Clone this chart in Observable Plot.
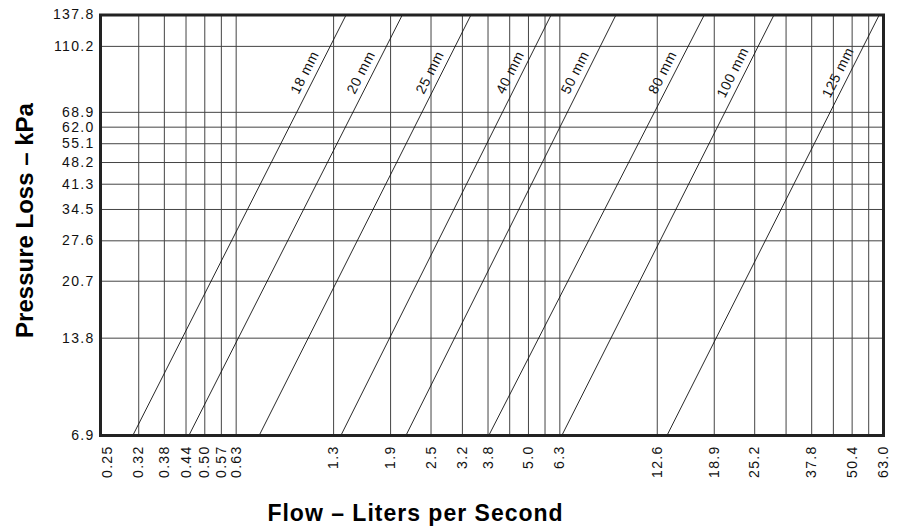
<!DOCTYPE html>
<html><head><meta charset="utf-8">
<script src="https://cdn.jsdelivr.net/npm/d3@7"></script>
<script src="https://cdn.jsdelivr.net/npm/@observablehq/plot@0.6"></script>
<style>body{margin:0;background:#fff;} #chart svg{display:block;}</style>
</head><body><div id="chart"></div>
<script>
// ---- data ----
const pipeSizes = ["18 mm", "20 mm", "25 mm", "40 mm", "50 mm", "80 mm", "100 mm", "125 mm"];
// flow (L/s) where each line crosses the bottom (6.9 kPa) and top (137.8 kPa) of the chart
const flowAtMinPressure = [0.302, 0.45, 0.742, 1.327, 2.108, 3.80, 6.39, 13.5];
const flowAtMaxPressure = [1.377, 2.054, 3.348, 5.92, 9.39, 17.6, 28.9, 61.1];
const pressureMin = 6.9, pressureMax = 137.8;
const flowMin = 0.24, flowMax = 63.0;
// vertical grid lines (L/s) and their labels ("" = unlabeled line)
const flowGridValues = [0.252, 0.315, 0.378, 0.441, 0.504, 0.567, 0.63, 1.26, 1.89, 2.52, 3.15, 3.78, 4.41, 5.04, 5.67, 6.3, 12.6, 18.9, 25.2, 31.5, 37.8, 44.1, 50.4, 56.7, 63.0];
const flowTickLabels = ["0.25", "0.32", "0.38", "0.44", "0.50", "0.57", "0.63", "1.3", "1.9", "2.5", "3.2", "3.8", "", "5.0", "", "6.3", "12.6", "18.9", "25.2", "", "37.8", "", "50.4", "", "63.0"];
const pressureTicks = [6.9, 13.8, 20.7, 27.6, 34.5, 41.3, 48.2, 55.1, 62.0, 68.9, 110.2, 137.8];
const pressureTickLabels = ["6.9", "13.8", "20.7", "27.6", "34.5", "41.3", "48.2", "55.1", "62.0", "68.9", "110.2", "137.8"];
const labelPressure = 91.5; // pressure at which line labels sit
const xTitle = "Flow – Liters per Second";
const yTitle = "Pressure Loss – kPa";

// ---- layout ----
const W = 903, H = 531;
const mL = 100, mR = 20, mT = 14.5, mB = 96;
const kx = (W - mL - mR) / Math.log10(flowMax / flowMin);
const ky = (H - mT - mB) / Math.log10(pressureMax / pressureMin);

const pipes = pipeSizes.map((name, i) => {
  const q1 = flowAtMinPressure[i], q2 = flowAtMaxPressure[i];
  const n = Math.log(pressureMax / pressureMin) / Math.log(q2 / q1);
  const qLab = q1 * Math.pow(labelPressure / pressureMin, 1 / n);
  const angle = -Math.atan(n * ky / kx) * 180 / Math.PI;
  return {name, q1, q2, qLab, angle};
});

const xLabelMap = new Map(flowGridValues.map((v, i) => [v, flowTickLabels[i]]));
const xLabeled = flowGridValues.filter((v, i) => flowTickLabels[i] !== "");
const yLabelMap = new Map(pressureTicks.map((v, i) => [v, pressureTickLabels[i]]));

const chart = Plot.plot({
  width: W, height: H,
  marginLeft: mL, marginRight: mR, marginTop: mT, marginBottom: mB,
  style: {fontFamily: "'Liberation Sans', Arial, Helvetica, sans-serif", fontSize: "14px", color: "#111", background: "#fff"},
  x: {type: "log", domain: [flowMin, flowMax]},
  y: {type: "log", domain: [pressureMin, pressureMax]},
  marks: [
    Plot.ruleX(flowGridValues.slice(1, -1), {stroke: "#444", strokeWidth: 1}),
    Plot.ruleY(pressureTicks, {stroke: "#444", strokeWidth: 1}),
    Plot.link(pipes, {x1: "q1", y1: () => pressureMin, x2: "q2", y2: () => pressureMax, stroke: "#111", strokeWidth: 0.9}),
    Plot.text(pipes, {x: "qLab", y: () => labelPressure, text: "name", rotate: "angle", dx: -12, fontSize: 14, fill: "#111"}),
    Plot.frame({stroke: "#222", strokeWidth: 3}),
    Plot.axisY(pressureTicks, {tickSize: 0, tickPadding: 6, text: d => yLabelMap.get(d), label: null, fontSize: 14}),
    Plot.axisX(xLabeled, {tickSize: 0, tickPadding: 10, tickRotate: -90, textAnchor: "end", lineAnchor: "middle", text: d => xLabelMap.get(d), label: null, fontSize: 14}),
    Plot.text([yTitle], {frameAnchor: "left", textAnchor: "middle", lineAnchor: "middle", rotate: -90, dx: -75.5, dy: -4.75, fontWeight: "bold", fontSize: 24, fill: "#000"}),
    Plot.text([xTitle], {frameAnchor: "bottom", textAnchor: "middle", lineAnchor: "middle", dx: -76.5, dy: 78.6, fontWeight: "bold", fontSize: 23, fill: "#000"})
  ]
});
document.getElementById("chart").append(chart);
const svg = d3.select(chart);
svg.selectAll("g[aria-label='x-axis tick label'] text, g[aria-label='y-axis tick label'] text")
  .style("font-size", "14px").style("letter-spacing", "1.3px").style("fill", "#111");
svg.selectAll("text").filter(function() { return pipeSizes.includes(this.textContent); })
  .style("font-size", "14px").style("letter-spacing", "0.6px");
svg.selectAll("text").filter(function() { return this.textContent === xTitle; }).style("letter-spacing", "1px");
</script>
</body></html>
